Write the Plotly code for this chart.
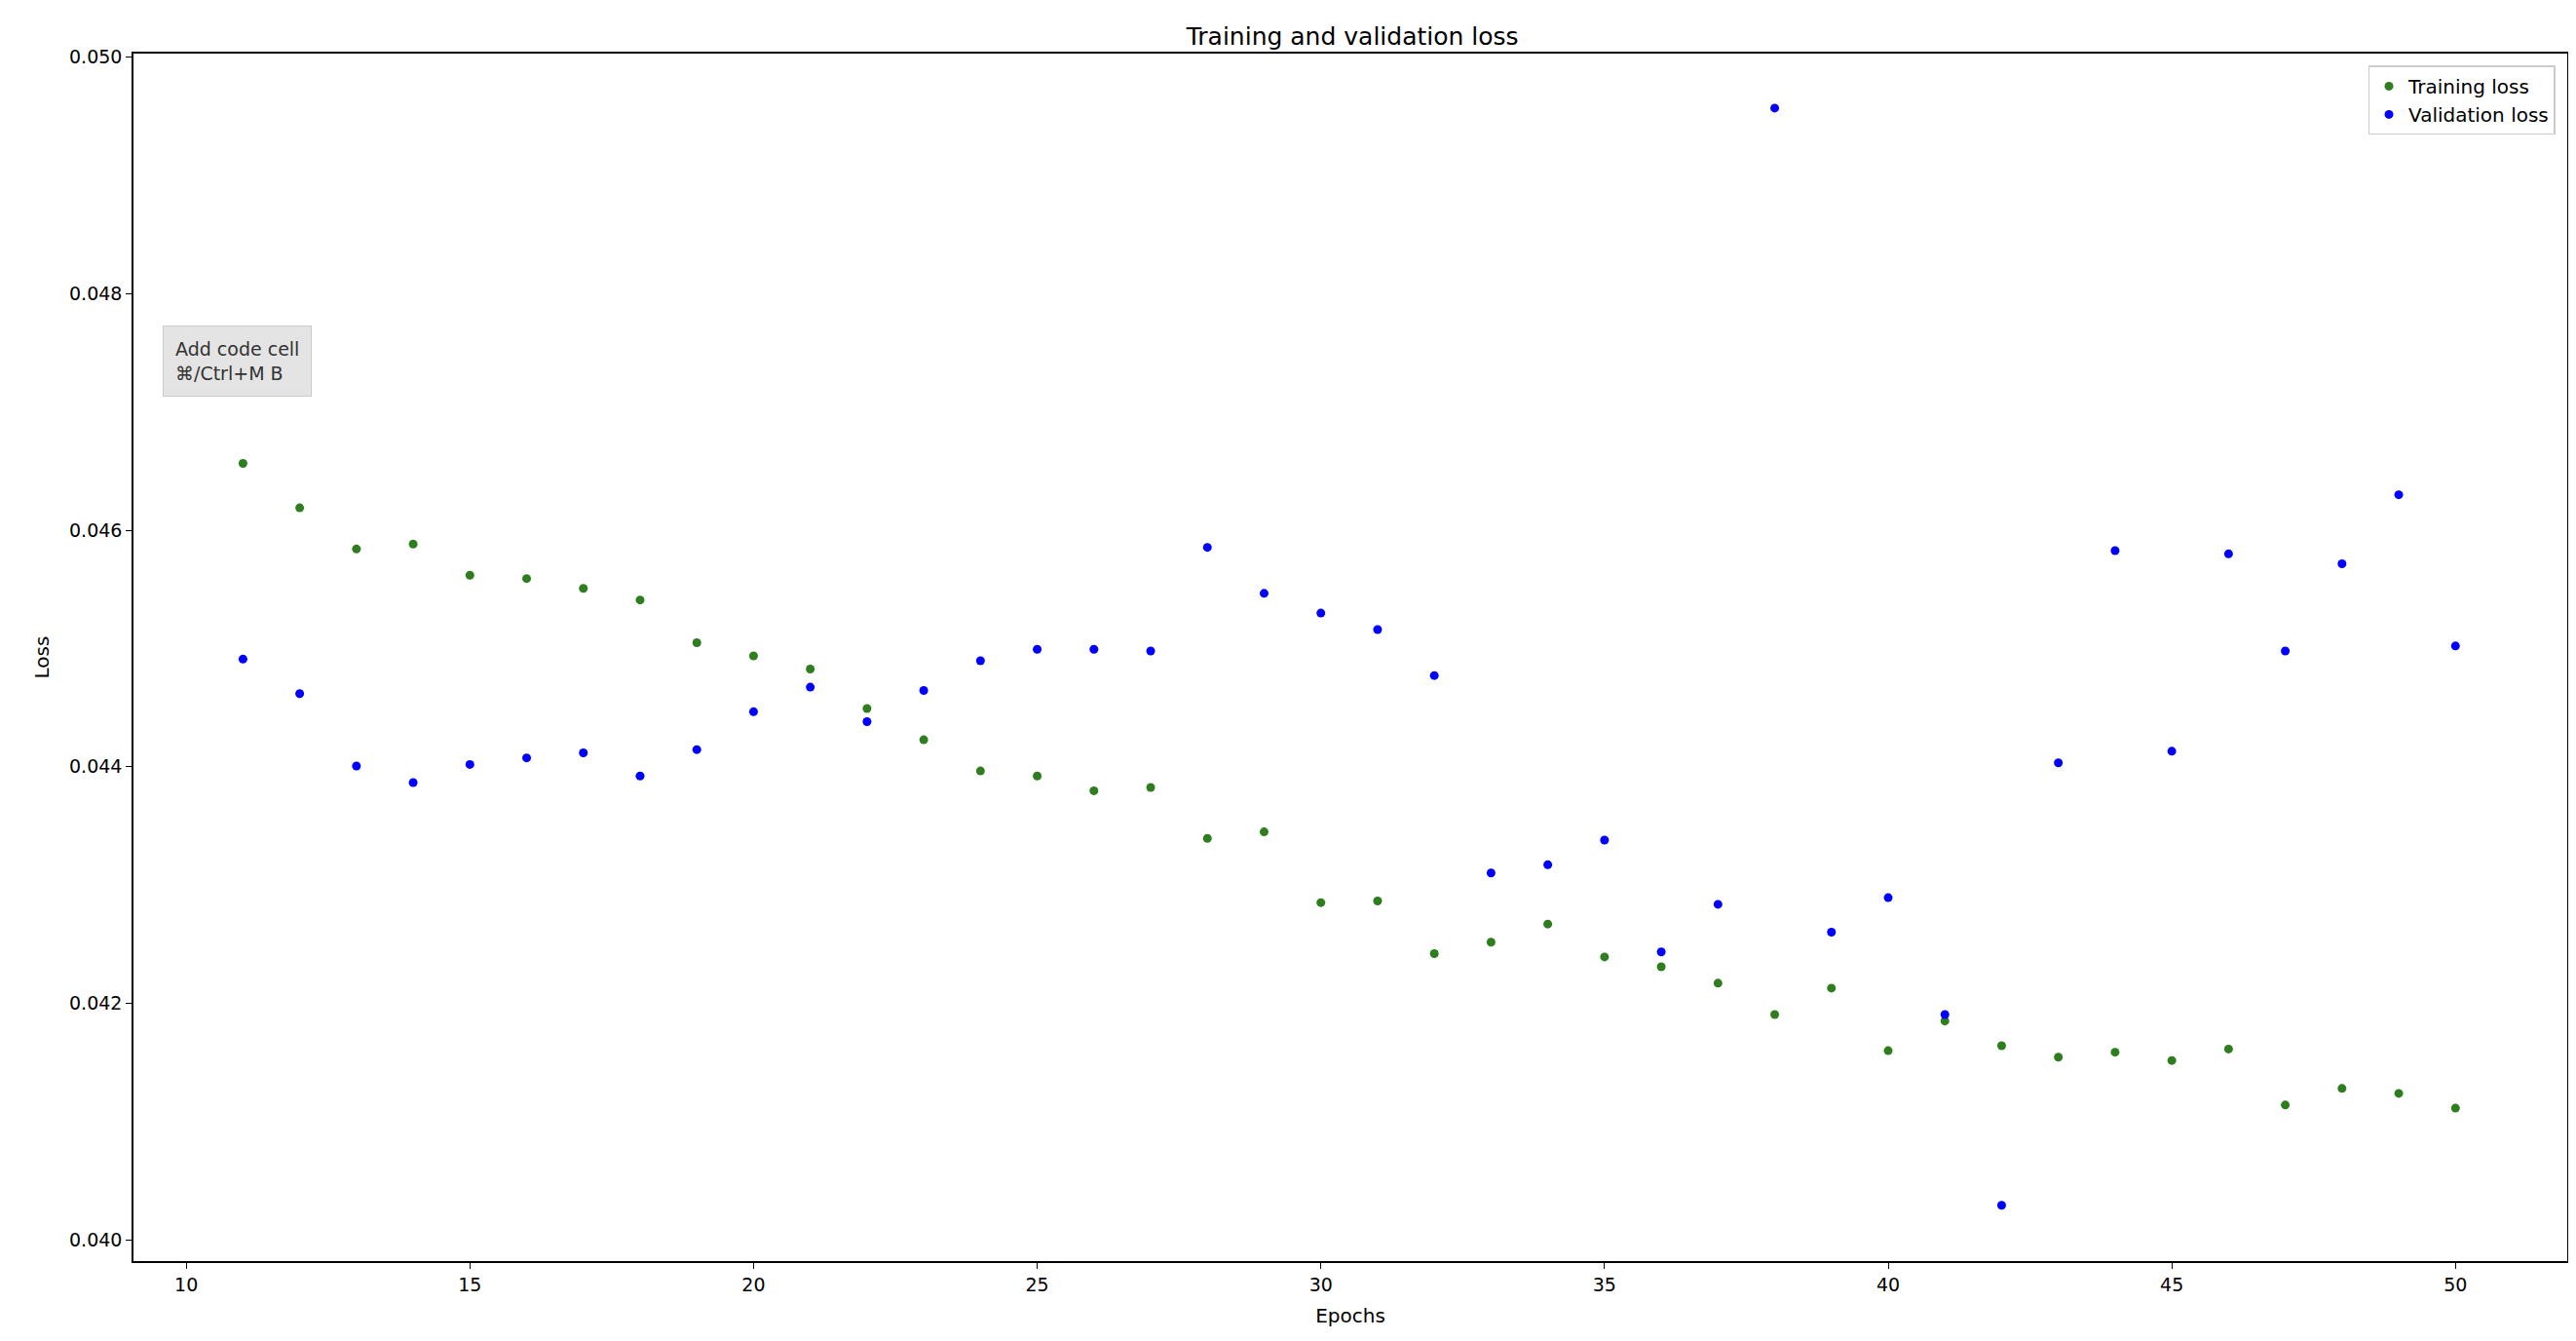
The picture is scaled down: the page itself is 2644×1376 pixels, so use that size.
import plotly.graph_objects as go

epochs = list(range(11, 51))
training_loss = [
    0.046565, 0.046189, 0.045841, 0.045883, 0.045619, 0.045591, 0.045508, 0.045410,
    0.045049, 0.044937, 0.044826, 0.044492, 0.044228, 0.043964, 0.043922, 0.043797,
    0.043825, 0.043394, 0.043449, 0.042851, 0.042865, 0.042420, 0.042517, 0.042670,
    0.042392, 0.042309, 0.042170, 0.041905, 0.042128, 0.041599, 0.041850, 0.041641,
    0.041544, 0.041586, 0.041516, 0.041613, 0.041140, 0.041280, 0.041238, 0.041113,
]
validation_loss = [
    0.044910, 0.044618, 0.044006, 0.043866, 0.044019, 0.044075, 0.044117, 0.043922,
    0.044145, 0.044465, 0.044673, 0.044381, 0.044645, 0.044896, 0.044993, 0.044993,
    0.044979, 0.045855, 0.045466, 0.045299, 0.045160, 0.044771, 0.043102, 0.043171,
    0.043380, 0.042434, 0.042837, 0.049569, 0.042601, 0.042893, 0.041905, 0.040292,
    0.044033, 0.045827, 0.044131, 0.045800, 0.044979, 0.045716, 0.046300, 0.045021,
]
x_ticks = [10, 15, 20, 25, 30, 35, 40, 45, 50]
y_ticks = [0.040, 0.042, 0.044, 0.046, 0.048, 0.050]

fig = go.Figure()
fig.add_trace(go.Scatter(x=epochs, y=training_loss, mode='markers', name='Training loss',
                         marker=dict(color='#2e7d1f', size=9)))
fig.add_trace(go.Scatter(x=epochs, y=validation_loss, mode='markers', name='Validation loss',
                         marker=dict(color='#0000ff', size=9)))

axis_style = dict(showline=True, linecolor='black', linewidth=1.5, mirror=True, ticks='outside',
                  ticklen=6, tickcolor='black', showgrid=False, zeroline=False,
                  tickfont=dict(size=19, color='black'))
fig.update_xaxes(range=[9.07, 51.97], tickvals=x_ticks, title=dict(text='Epochs', font=dict(size=20)),
                 **axis_style)
fig.update_yaxes(range=[0.03982, 0.05003], tickvals=y_ticks, tickformat='.3f',
                 title=dict(text='Loss', font=dict(size=20)), **axis_style)

fig.add_annotation(x=0.012, y=0.745, xref='paper', yref='paper', xanchor='left', yanchor='middle',
                   text='Add code cell<br>⌘/Ctrl+M B', showarrow=False, align='left',
                   bgcolor='#e4e4e4', bordercolor='#cccccc', borderpad=12,
                   font=dict(size=19, color='#333333'))

fig.update_layout(
    width=2644, height=1376,
    title=dict(text='Training and validation loss', x=0.522, xanchor='center', y=0.985,
               font=dict(size=25, color='black')),
    font=dict(family='DejaVu Sans', color='black'),
    plot_bgcolor='white', paper_bgcolor='white',
    margin=dict(l=129, r=17, t=47, b=90),
    legend=dict(x=0.995, y=0.99, xanchor='right', yanchor='top', bordercolor='#cccccc',
                borderwidth=1.5, font=dict(size=20), bgcolor='white'),
)

fig.write_html('out.html')
